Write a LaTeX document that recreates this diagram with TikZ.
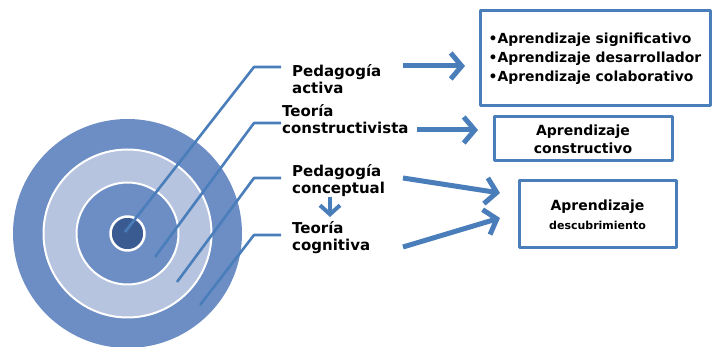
\documentclass[tikz,border=0pt]{standalone}
\usepackage{fontspec}
\setmainfont{DejaVu Sans}
\usetikzlibrary{arrows.meta}
\definecolor{azul}{HTML}{4A7EBB}
\definecolor{anillo}{HTML}{6D8DC5}
\definecolor{claro}{HTML}{B6C4DF}
\definecolor{oscuro}{HTML}{3A5A92}
\begin{document}
\begin{tikzpicture}[x=1pt, y=-1pt, line join=round, font=\bfseries,
	guia/.style={draw=azul, line width=2.6pt},
	flecha/.style={draw=azul, line width=5pt, -{Straight Barb[length=11pt,width=26pt]}},
	caja/.style={draw=azul, line width=3pt, fill=white, inner sep=0pt},
	rotulo/.style={anchor=north west, align=left, inner sep=0pt, font=\bfseries\fontsize{15}{17}\selectfont}]%Diana
	\useasboundingbox (0,0) rectangle (713,347);
	\path (127.5,233.5) coordinate (O);
	\fill[anillo] (O) circle (114.5pt);
	\draw[white, line width=2pt, fill=claro] (O) circle (84pt);
	\draw[white, line width=2pt, fill=anillo] (O) circle (51pt);
	\draw[white, line width=2.5pt, fill=oscuro] (O) circle (17pt);
	\foreach \a/\b/\c in {125/232/67, 155/257/123, 177/282/178, 200/305/235}
	\draw[guia] (\a,\b) -- (254,\c) -- (281,\c);
	\node[rotulo] (act) at (292,64) {Pedagogía\\activa};
	\node[rotulo] (cons) at (282,104) {Teoría\\constructivista};
	\node[rotulo] (con) at (292,164) {Pedagogía\\conceptual};
	\node[rotulo] (cog) at (292,221) {Teoría\\cognitiva};
	\node[caja, minimum width=230pt, minimum height=95pt, align=left, font=\bfseries\fontsize{13.9}{19}\selectfont] (sig) at (595,58.5) {•Aprendizaje significativo\\•Aprendizaje desarrollador\\•Aprendizaje colaborativo};
	\node[caja, minimum width=178pt, minimum height=44pt, align=center, font=\bfseries\fontsize{14}{18}\selectfont] (ctv) at (583,139) {Aprendizaje\\constructivo};
	\node[caja, minimum width=157pt, minimum height=67pt, align=center, font=\bfseries\fontsize{14}{19}\selectfont] (des) at (597.5,214.5) {Aprendizaje\\{\fontsize{11}{19}\selectfont descubrimiento}};
	\path (403,66)coordinate(A1) (465,66)coordinate(B1) (417,130)coordinate(A2) (478,130)coordinate(B2)
	(403,178)coordinate(A3) (500,193)coordinate(B3) (403,247)coordinate(A4) (500,218)coordinate(B4);
	\foreach \i in {1,...,4}
	\draw[flecha] (A\i) -- (B\i);
	\path (330,0) coordinate (x);
	\draw[draw=azul, line width=4pt, -{Straight Barb[length=9pt,width=20pt]}] (x |- con.south) -- ([yshift=4pt]x |- cog.north);
\end{tikzpicture}
\end{document}
